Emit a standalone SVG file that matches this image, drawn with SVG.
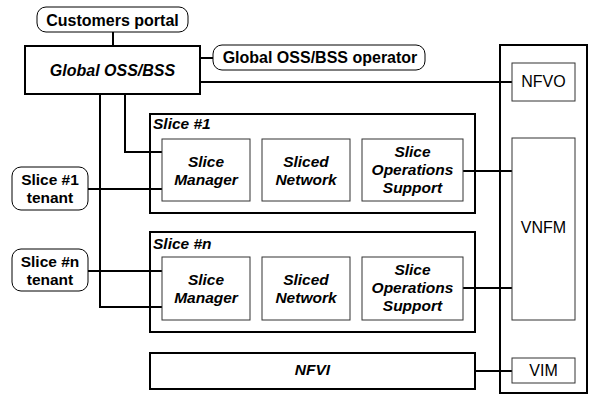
<svg xmlns="http://www.w3.org/2000/svg" width="590" height="395" viewBox="0 0 590 395">
<style>
text{font-family:"Liberation Sans",Arial,sans-serif;font-size:15.5px;fill:#000;text-anchor:middle}
.b{font-weight:bold}
.bi{font-weight:bold;font-style:italic}
.l{text-anchor:start}
.big{font-size:16px}
.thick{fill:#fff;stroke:#000;stroke-width:2}
.frame{fill:none;stroke:#000;stroke-width:2}
.thin{fill:#fff;stroke:#333;stroke-width:1}
.pill{fill:#fff;stroke:#000;stroke-width:1}
.c{fill:none;stroke:#000;stroke-width:2}
</style>
<rect width="590" height="395" fill="#fff"/>
<g id="connectors">
<line class="c" x1="113" y1="32" x2="113" y2="46"/>
<line class="c" x1="200" y1="58" x2="213" y2="58"/>
<line class="c" x1="200" y1="82" x2="512" y2="82"/>
<polyline class="c" points="125,94 125,152 162,152"/>
<polyline class="c" points="100,94 100,307 162,307"/>
<line class="c" x1="88" y1="189" x2="162" y2="189"/>
<line class="c" x1="88" y1="271" x2="162" y2="271"/>
<line class="c" x1="463" y1="171" x2="512" y2="171"/>
<line class="c" x1="463" y1="288" x2="512" y2="288"/>
<line class="c" x1="475" y1="371" x2="512" y2="371"/>
</g>
<g id="mano">
<rect class="frame" x="500" y="45" width="87" height="348"/>
</g>
<g id="customers-portal">
<rect class="pill" x="37" y="7" width="151" height="25" rx="9"/>
<text class="b big" x="112.5" y="26">Customers portal</text>
</g>
<g id="global-oss-bss">
<rect class="thick" x="25" y="46" width="175" height="48"/>
<text class="bi big" x="112.5" y="76">Global OSS/BSS</text>
</g>
<g id="global-operator">
<rect class="pill" x="213" y="45" width="212" height="25" rx="9"/>
<text class="b big" x="320" y="63">Global OSS/BSS operator</text>
</g>
<g id="nfvo">
<rect class="thin" x="512" y="63" width="63" height="38"/>
<text class="big" x="543.5" y="87">NFVO</text>
</g>
<g id="vnfm">
<rect class="thin" x="512" y="138" width="63" height="182"/>
<text class="big" x="543.5" y="233">VNFM</text>
</g>
<g id="vim">
<rect class="thin" x="512" y="358" width="63" height="25"/>
<text class="big" x="543.5" y="376">VIM</text>
</g>
<g id="slice1">
<rect class="frame" x="150" y="114" width="325" height="99"/>
<text class="bi l" x="153" y="129">Slice #1</text>
</g>
<g id="slice1-manager">
<rect class="thin" x="162" y="139" width="88" height="62"/>
<text class="bi" x="206" y="167">Slice</text>
<text class="bi" x="206" y="185">Manager</text>
</g>
<g id="slice1-network">
<rect class="thin" x="262" y="139" width="88" height="62"/>
<text class="bi" x="306" y="167">Sliced</text>
<text class="bi" x="306" y="185">Network</text>
</g>
<g id="slice1-ops">
<rect class="thin" x="362" y="139" width="101" height="62"/>
<text class="bi" x="412.5" y="157">Slice</text>
<text class="bi" x="412.5" y="175">Operations</text>
<text class="bi" x="412.5" y="193">Support</text>
</g>
<g id="slice1-tenant">
<rect class="pill" x="12" y="167" width="76" height="43" rx="9"/>
<text class="b" x="50" y="185">Slice #1</text>
<text class="b" x="50" y="203">tenant</text>
</g>
<g id="slicen">
<rect class="frame" x="150" y="232" width="325" height="100"/>
<text class="bi l" x="153" y="249">Slice #n</text>
</g>
<g id="slicen-manager">
<rect class="thin" x="162" y="257" width="88" height="63"/>
<text class="bi" x="206" y="285">Slice</text>
<text class="bi" x="206" y="303">Manager</text>
</g>
<g id="slicen-network">
<rect class="thin" x="262" y="257" width="88" height="63"/>
<text class="bi" x="306" y="285">Sliced</text>
<text class="bi" x="306" y="303">Network</text>
</g>
<g id="slicen-ops">
<rect class="thin" x="362" y="257" width="101" height="63"/>
<text class="bi" x="412.5" y="275">Slice</text>
<text class="bi" x="412.5" y="293">Operations</text>
<text class="bi" x="412.5" y="311">Support</text>
</g>
<g id="slicen-tenant">
<rect class="pill" x="12" y="249" width="76" height="42" rx="9"/>
<text class="b" x="50" y="267">Slice #n</text>
<text class="b" x="50" y="285">tenant</text>
</g>
<g id="nfvi">
<rect class="thick" x="150" y="353" width="325" height="36"/>
<text class="bi" x="312.5" y="375">NFVI</text>
</g>
</svg>
